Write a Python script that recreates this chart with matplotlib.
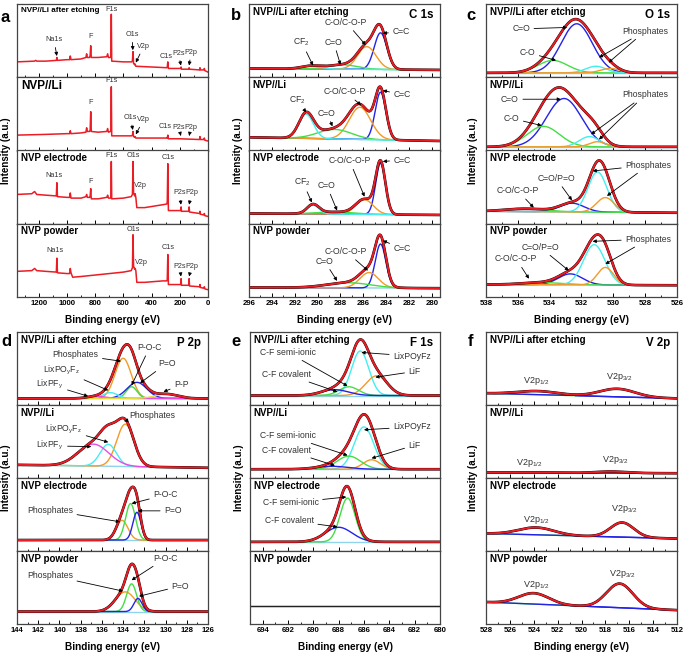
import matplotlib.pyplot as plt
import numpy as np
from matplotlib.ticker import MultipleLocator

plt.rcParams["font.family"] = ["Liberation Sans", "DejaVu Sans"]
plt.rcParams["mathtext.fontset"] = "custom"
plt.rcParams["mathtext.rm"] = "Liberation Sans"
plt.rcParams["mathtext.it"] = "Liberation Sans:italic"
plt.rcParams["mathtext.bf"] = "Liberation Sans:bold"

nan = np.nan
samples = ["NVP//Li after etching", "NVP//Li", "NVP electrode", "NVP powder"]

# ---- a: survey spectra, (binding energy, intensity) points
sv_etch_x = [1355, 1230, 1222, 1214, 1150, 1076, 1072, 1068, 1000, 982, 977, 972, 900, 866, 861, 856,
             840, 836, 832, 828, 780, 718, 712, 706, 692, 689, 686, 683, 600, 540, 536, 532, 528, 520,
             517, 512, 400, 292, 289, 285, 281, 200, 194, 191, 188, 140, 137, 134, 131, 60, 57, 54,
             30, 26, 22, 0]
sv_etch_y = [0.21, 0.22, 0.23, 0.22, 0.22, 0.23, 0.27, 0.23, 0.24, 0.24, 0.29, 0.24, 0.25, 0.27, 0.32, 0.27,
             0.27, 0.30, 0.43, 0.27, 0.27, 0.28, 0.32, 0.27, 0.27, 0.30, 0.86, 0.22, 0.21, 0.21, 0.23, 0.35, 0.19, 0.17,
             0.18, 0.15, 0.14, 0.13, 0.14, 0.21, 0.12, 0.12, 0.12, 0.14, 0.11, 0.11, 0.11, 0.13, 0.11, 0.10, 0.13, 0.10,
             0.10, 0.12, 0.09, 0.07]
sv_li_x = [1355, 1150, 1000, 982, 977, 972, 900, 866, 861, 856, 840, 836, 832, 828, 780, 718, 712, 706,
           692, 689, 686, 683, 600, 540, 536, 532, 528, 520, 517, 512, 400, 292, 289, 285, 281, 200,
           60, 57, 54, 30, 26, 22, 0]
sv_li_y = [0.21, 0.22, 0.23, 0.23, 0.27, 0.23, 0.24, 0.25, 0.31, 0.26, 0.26, 0.28, 0.53, 0.26, 0.25, 0.26, 0.30, 0.25,
           0.26, 0.28, 0.87, 0.20, 0.20, 0.20, 0.21, 0.26, 0.19, 0.18, 0.19, 0.17, 0.17, 0.17, 0.17, 0.21, 0.16, 0.16,
           0.15, 0.19, 0.15, 0.15, 0.17, 0.14, 0.13]
sv_elec_x = [1355, 1250, 1230, 1215, 1150, 1076, 1072, 1068, 1000, 982, 977, 972, 900, 866, 861, 856, 840,
             836, 832, 828, 780, 718, 712, 706, 692, 689, 686, 683, 600, 545, 536, 532, 528, 520, 517,
             512, 505, 450, 320, 292, 289, 285, 281, 200, 194, 191, 188, 140, 137, 134, 131, 60, 57, 54,
             30, 26, 22, 0]
sv_elec_y = [0.40, 0.41, 0.44, 0.40, 0.39, 0.38, 0.56, 0.37, 0.36, 0.36, 0.42, 0.35, 0.35, 0.37, 0.40, 0.36, 0.36,
             0.38, 0.48, 0.34, 0.34, 0.36, 0.39, 0.35, 0.35, 0.37, 0.85, 0.34, 0.35, 0.37, 0.40, 0.85, 0.42, 0.38, 0.41,
             0.36, 0.22, 0.22, 0.26, 0.27, 0.30, 0.82, 0.18, 0.18, 0.18, 0.23, 0.17, 0.17, 0.17, 0.23, 0.16, 0.14, 0.17, 0.13,
             0.12, 0.14, 0.11, 0.10]
sv_pow_x = [1355, 1250, 1230, 1215, 1150, 1076, 1072, 1068, 1000, 982, 977, 972, 960, 900, 800, 700, 600,
            545, 536, 532, 528, 520, 517, 512, 505, 450, 320, 292, 289, 285, 281, 200, 194, 191, 188,
            140, 137, 134, 131, 60, 57, 54, 30, 26, 22, 0]
sv_pow_y = [0.35, 0.36, 0.39, 0.36, 0.35, 0.34, 0.53, 0.33, 0.32, 0.32, 0.39, 0.33, 0.27, 0.28, 0.30, 0.32, 0.34,
            0.36, 0.40, 0.85, 0.42, 0.38, 0.39, 0.36, 0.20, 0.20, 0.22, 0.22, 0.24, 0.58, 0.17, 0.17, 0.17, 0.25, 0.16,
            0.16, 0.16, 0.25, 0.15, 0.14, 0.17, 0.13, 0.12, 0.14, 0.11, 0.10]
sv_notes = [
    [("Na1s", 1093, 0.51, [(1072, 0.29)]), ("F", 833, 0.55, []), ("F1s", 686, 0.93, []),
     ("O1s", 539, 0.58, [(533, 0.37)]), ("V2p", 457, 0.42, [(512, 0.2)]), ("C1s", 300, 0.28, []),
     ("P2s", 210, 0.33, [(192, 0.16)]), ("P2p", 120, 0.34, [(134, 0.16)])],
    [("F", 833, 0.66, []), ("F1s", 686, 0.95, []), ("O1s", 551, 0.45, [(533, 0.28)]),
     ("V2p", 458, 0.42, [(512, 0.22)]), ("C1s", 304, 0.33, []),
     ("P2s", 210, 0.32, [(192, 0.2)]), ("P2p", 120, 0.32, [(134, 0.2)])],
    [("Na1s", 1093, 0.66, []), ("F", 833, 0.57, []), ("F1s", 686, 0.93, []), ("O1s", 532, 0.93, []),
     ("V2p", 478, 0.52, []), ("C1s", 285, 0.9, []),
     ("P2s", 200, 0.42, [(192, 0.26)]), ("P2p", 117, 0.42, [(134, 0.26)])],
    [("Na1s", 1085, 0.63, []), ("O1s", 532, 0.92, []), ("V2p", 474, 0.47, []), ("C1s", 282, 0.68, []),
     ("P2s", 200, 0.42, [(192, 0.28)]), ("P2p", 117, 0.42, [(134, 0.28)])],
]

# ---- b: C 1s fit (centre eV, FWHM eV, height) per sample
c1s_names = ["C=C", "C-O/C-O-P", "C=O", "CF2"]
c1s_center = [[284.5, 285.7, 287.8, 290.6], [284.5, 286.3, 288.5, 291.0],
              [284.5, 285.9, 288.5, 290.4], [284.5, 285.5, 287.3, nan]]
c1s_fwhm = [[1.3, 1.9, 3.0, 2.0], [1.1, 2.2, 3.5, 1.5], [1.0, 1.8, 4.0, 1.2], [1.1, 1.9, 4.5, nan]]
c1s_height = [[0.50, 0.31, 0.06, 0.04], [0.65, 0.44, 0.13, 0.33], [0.70, 0.20, 0.03, 0.12], [0.60, 0.21, 0.07, nan]]
c1s_bg = [(0.12, 0.10), (0.18, 0.13), (0.14, 0.12), (0.13, 0.12)]
c1s_notes = [
    [("CF$_2$", 291.4, 0.48, [(290.4, 0.16)]), ("C=O", 288.6, 0.48, [(288.0, 0.17)]),
     ("C-O/C-O-P", 287.5, 0.75, [(285.8, 0.44)]), ("C=C", 282.7, 0.62, [(284.3, 0.6)])],
    [("CF$_2$", 291.8, 0.69, [(291.0, 0.52)]), ("C=O", 289.2, 0.51, [(288.7, 0.33)]),
     ("C-O/C-O-P", 287.6, 0.80, [(286.2, 0.62)]), ("C=C", 282.6, 0.76, [(284.3, 0.82)])],
    [("CF$_2$", 291.3, 0.57, [(290.5, 0.29)]), ("C=O", 289.2, 0.52, [(288.3, 0.18)]),
     ("C-O/C-O-P", 287.2, 0.86, [(285.9, 0.37)]), ("C=C", 282.6, 0.87, [(284.3, 0.85)])],
    [("C=O", 289.4, 0.49, [(288.3, 0.22)]), ("C-O/C-O-P", 287.5, 0.62, [(285.6, 0.36)]),
     ("C=C", 282.6, 0.66, [(284.3, 0.77)])],
]

# ---- c: O 1s fit
o1s_names = ["C=O", "C-O", "Phos1", "Phos2"]
o1s_center = [[532.3, 533.8, 531.1, 530.2], [533.1, 534.4, 531.5, 531.0],
              [532.6, 535.5, 531.0, 530.5], [532.7, 534.5, 531.2, 530.5]]
o1s_fwhm = [[2.3, 2.2, 1.5, 1.4], [2.6, 2.4, 1.5, 1.2], [1.8, 3.0, 1.4, 1.3], [1.8, 3.0, 1.6, 1.2]]
o1s_height = [[0.67, 0.17, 0.09, 0.06], [0.66, 0.28, 0.14, 0.07], [0.12, 0.04, 0.55, 0.20], [0.15, 0.03, 0.55, 0.24]]
o1s_bg = [(0.06, 0.06), (0.05, 0.05), (0.17, 0.15), (0.17, 0.16)]
o1s_notes = [
    [("C=O", 535.8, 0.66, [(532.9, 0.68)]), ("C-O", 535.4, 0.34, [(533.6, 0.23)]),
     ("Phosphates", 528.0, 0.63, [(530.9, 0.27), (530.3, 0.2)])],
    [("C=O", 536.5, 0.70, [(533.3, 0.70)]), ("C-O", 536.4, 0.44, [(534.5, 0.34)]),
     ("Phosphates", 528.0, 0.76, [(531.4, 0.22), (530.9, 0.15)])],
    [("Phosphates", 527.8, 0.80, [(531.3, 0.72), (530.4, 0.38)]), ("C=O/P=O", 533.6, 0.62, [(532.6, 0.32)]),
     ("C-O/C-O-P", 536.0, 0.45, [(535.0, 0.22)])],
    [("Phosphates", 527.8, 0.79, [(531.3, 0.76), (530.5, 0.45)]), ("C=O/P=O", 534.6, 0.68, [(532.8, 0.36)]),
     ("C-O/C-O-P", 536.1, 0.52, [(535.3, 0.25)])],
]

# ---- d: P 2p fit
p2p_names = ["Phosphates", "P-O-C", "P=O", "LixPOyFz", "LixPFy", "P-P"]
p2p_center = [[134.0, 133.2, 132.7, 135.2, 136.5, 129.9], [133.8, nan, nan, 135.4, 136.8, nan],
              [134.1, 133.3, 132.7, nan, nan, nan], [133.8, 133.2, 132.6, nan, nan, nan]]
p2p_fwhm = [[1.8, 1.2, 2.2, 1.6, 2.0, 2.5], [1.9, nan, nan, 1.8, 3.4, nan],
            [1.3, 1.1, 0.9, nan, nan, nan], [2.2, 1.1, 0.9, nan, nan, nan]]
p2p_height = [[0.55, 0.16, 0.22, 0.08, 0.03, 0.06], [0.58, nan, nan, 0.30, 0.30, nan],
              [0.27, 0.50, 0.38, nan, nan, nan], [0.27, 0.38, 0.18, nan, nan, nan]]
p2p_bg = [(0.09, 0.09), (0.18, 0.14), (0.15, 0.15), (0.17, 0.17)]
p2p_notes = [
    [("Phosphates", 138.5, 0.69, [(134.2, 0.6)]), (r"LixPO$_\mathrm{y}$F$_\mathrm{z}$", 139.8, 0.48, [(135.4, 0.2)]),
     (r"LixPF$_\mathrm{y}$", 140.9, 0.28, [(137.3, 0.12)]), ("P-O-C", 131.5, 0.79, [(133.2, 0.27)]),
     ("P=O", 129.9, 0.57, [(132.4, 0.3)]), ("P-P", 128.5, 0.28, [(130.2, 0.18)])],
    [("Phosphates", 131.3, 0.86, [(133.9, 0.78)]), (r"LixPO$_\mathrm{y}$F$_\mathrm{z}$", 139.6, 0.67, [(135.4, 0.49)]),
     (r"LixPF$_\mathrm{y}$", 140.9, 0.44, [(137.0, 0.43)])],
    [("Phosphates", 140.9, 0.56, [(134.3, 0.4)]), ("P-O-C", 130.0, 0.77, [(133.2, 0.65)]),
     ("P=O", 129.3, 0.55, [(132.6, 0.55)])],
    [("Phosphates", 140.9, 0.67, [(134.0, 0.45)]), ("P-O-C", 130.0, 0.90, [(133.2, 0.6)]),
     ("P=O", 128.6, 0.52, [(132.5, 0.38)])],
]

# ---- e: F 1s fit
f1s_names = ["LixPOyFz", "LiF", "C-F semi-ionic", "C-F covalent"]
f1s_center = [[686.3, 685.0, 687.2, 688.3], [686.0, 685.4, 687.2, 688.5],
              [nan, nan, 687.3, 688.0], [nan, nan, nan, nan]]
f1s_fwhm = [[1.6, 2.0, 1.8, 2.5], [1.8, 1.6, 2.2, 3.0], [nan, nan, 1.4, 2.5], [nan, nan, nan, nan]]
f1s_height = [[0.61, 0.27, 0.12, 0.08], [0.58, 0.13, 0.18, 0.04], [nan, nan, 0.60, 0.20], [nan, nan, nan, nan]]
f1s_bg = [(0.13, 0.13), (0.12, 0.12), (0.125, 0.125), (0.25, 0.25)]
f1s_notes = [
    [("LixPOyFz", 682.2, 0.67, [(686.2, 0.72)]), ("LiF", 682.0, 0.46, [(685.1, 0.38)]),
     ("C-F semi-ionic", 692.0, 0.72, [(687.3, 0.26)]), ("C-F covalent", 692.1, 0.42, [(688.1, 0.18)])],
    [("LixPOyFz", 682.2, 0.70, [(686.0, 0.66)]), ("LiF", 682.0, 0.45, [(685.4, 0.27)]),
     ("C-F semi-ionic", 692.0, 0.58, [(687.3, 0.31)]), ("C-F covalent", 692.1, 0.38, [(688.3, 0.17)])],
    [("C-F semi-ionic", 691.8, 0.66, [(687.4, 0.74)]), ("C-F covalent", 691.9, 0.42, [(688.1, 0.33)])],
    [],
]

# ---- f: V 2p fit
v2p_names = ["V2p1/2", "V2p3/2"]
v2p_center = [[523.7, 517.0], [524.0, 517.5], [523.8, 516.6], [524.0, 516.8]]
v2p_fwhm = [[4.0, 3.5], [3.0, 3.0], [3.5, 2.3], [3.0, 2.6]]
v2p_height = [[0.05, 0.11], [0.005, 0.02], [0.10, 0.20], [0.15, 0.33]]
v2p_bg = [(0.16, 0.09), (0.075, 0.065), (0.24, 0.17), (0.30, 0.19)]
v2p_notes = [
    [("V2p$_{1/2}$", 523.8, 0.33, []), ("V2p$_{3/2}$", 516.8, 0.38, [])],
    [("V2p$_{1/2}$", 524.4, 0.21, []), ("V2p$_{3/2}$", 517.2, 0.25, [])],
    [("V2p$_{1/2}$", 523.8, 0.43, []), ("V2p$_{3/2}$", 516.4, 0.58, [])],
    [("V2p$_{1/2}$", 523.8, 0.54, []), ("V2p$_{3/2}$", 516.6, 0.68, [])],
]

RED = "#ec1c24"
BLUE = "#2323e8"
ORANGE = "#f39a27"
GREEN = "#45dd45"
CYAN = "#44eeee"
MAGENTA = "#e54ee5"
YELLOW = "#e4dc3c"
BGC = "#8fd3ec"
colors = {"C=C": BLUE, "C-O/C-O-P": ORANGE, "C=O": GREEN, "CF2": CYAN,
          "Phosphates": ORANGE, "P-O-C": GREEN, "P=O": BLUE, "LixPOyFz": CYAN, "LixPFy": MAGENTA, "P-P": YELLOW,
          "LiF": ORANGE, "C-F semi-ionic": GREEN, "C-F covalent": BLUE,
          "V2p1/2": BLUE, "V2p3/2": BLUE}
o1s_colors = {"C=O": BLUE, "C-O": GREEN, "Phos1": CYAN, "Phos2": ORANGE}

W, H = 685, 656
fig = plt.figure(figsize=(6.85, 6.56), dpi=100)


def stack(x0, y0, x1, y1):
    h = (y1 - y0) / 4
    axs = []
    for k in range(4):
        top = y0 + k * h
        axs.append(fig.add_axes([x0 / W, 1 - (top + h) / H, (x1 - x0) / W, h / H]))
    return axs


def style(axs, lo, hi, minor, ticks):
    for k, ax in enumerate(axs):
        ax.set_xlim(hi, lo)
        ax.set_ylim(0, 1)
        ax.set_yticks([])
        ax.set_xticks(ticks)
        ax.xaxis.set_minor_locator(MultipleLocator(minor))
        ax.tick_params(axis="x", which="major", direction="in", length=3, width=0.7,
                       labelsize=5.6, pad=2, labelbottom=(k == 3))
        ax.tick_params(axis="x", which="minor", direction="in", length=1.6, width=0.6)
        for s in ax.spines.values():
            s.set_color("#444444")
            s.set_linewidth(0.9)
    axs[3].set_xticklabels([str(int(t)) for t in ticks], fontweight="bold")


def note(ax, items, size):
    for label, tx, ty, targets in items:
        if not targets:
            ax.text(tx, ty, label, ha="center", va="center", fontsize=size, color="#333333")
            continue
        for n, (px, py) in enumerate(targets):
            ax.annotate(label, xy=(px, py), xytext=(tx, ty), ha="center", va="center",
                        fontsize=size, color="#333333" if n == 0 else "none",
                        arrowprops=dict(arrowstyle="-|>", color="k", lw=0.6,
                                        mutation_scale=5, shrinkA=1, shrinkB=0))


def gauss(x, c, w, h):
    return h * np.exp(-4 * np.log(2) * (x - c) ** 2 / w ** 2)


def fit_panel(axs, lo, hi, names, centers, fwhms, heights, bgs, cmap, notes, size, split_bg=False):
    x = np.linspace(hi, lo, 700)
    for i, ax in enumerate(axs):
        b0, b1 = bgs[i]
        bg = b1 + (b0 - b1) * (x - lo) / (hi - lo)
        if split_bg:
            ax.plot(x[x >= 520], bg[x >= 520], color=GREEN, lw=1.0)
            ax.plot(x[x <= 520.5], bg[x <= 520.5], color=BLUE, lw=1.0)
        else:
            ax.plot(x, bg, color=BGC, lw=1.0)
        total = bg.copy()
        ncomp = 0
        for j, name in enumerate(names):
            c = centers[i][j]
            if np.isnan(c):
                continue
            g = gauss(x, c, fwhms[i][j], heights[i][j])
            total = total + g
            ncomp += 1
            ax.plot(x, bg + g, color=cmap[name], lw=1.0)
        if ncomp:
            ax.plot(x, total, color="k", lw=1.9)
            ax.plot(x, total, color=RED, lw=1.45)
        else:
            ax.plot(x, total, color="#222222", lw=1.0)
        note(ax, notes[i], size)


def labels(axs, title, sizes=(7, 7, 7, 7)):
    for ax, name, s in zip(axs, samples, sizes):
        ax.text(0.02, 0.965, name, transform=ax.transAxes, ha="left", va="top",
                fontsize=s, fontweight="bold")
    if title:
        axs[0].text(0.965, 0.93, title, transform=axs[0].transAxes, ha="right", va="top",
                    fontsize=8.3, fontweight="bold")


def frame_text(x0, y0, x1, y1, letter, lx, ly, ylx):
    fig.text(lx / W, 1 - ly / H, letter, fontsize=12, fontweight="bold", ha="center", va="center")
    fig.text(ylx / W, 1 - (y0 + y1) / 2 / H, "Intensity (a.u.)", rotation=90, fontsize=7,
             fontweight="bold", ha="center", va="center")
    fig.text((x0 + x1) / 2 / W, 1 - (y1 + 23) / H, "Binding energy (eV)", fontsize=7.2,
             fontweight="bold", ha="center", va="center")


# panel a
box = (17, 4, 208, 297)
axa = stack(*box)
style(axa, 0, 1355, 100, [0, 200, 400, 600, 800, 1000, 1200])
for ax, xs, ys, nt in zip(axa, [sv_etch_x, sv_li_x, sv_elec_x, sv_pow_x],
                          [sv_etch_y, sv_li_y, sv_elec_y, sv_pow_y], sv_notes):
    ax.plot(xs, ys, color=RED, lw=1.1)
    note(ax, nt, 5.2)
labels(axa, None, sizes=(5.8, 8.5, 7, 7))
frame_text(*box, "a", 5, 18, 6)

# panel b
box = (249, 4, 440, 297)
axb = stack(*box)
style(axb, 279.3, 296, 1, list(range(280, 297, 2)))
fit_panel(axb, 279.3, 296, c1s_names, c1s_center, c1s_fwhm, c1s_height, c1s_bg, colors, c1s_notes, 6.2)
labels(axb, "C 1s")
frame_text(*box, "b", 236, 16, 238)

# panel c
box = (486, 4, 677, 297)
axc = stack(*box)
style(axc, 526, 538, 1, list(range(526, 539, 2)))
fit_panel(axc, 526, 538, o1s_names, o1s_center, o1s_fwhm, o1s_height, o1s_bg, o1s_colors, o1s_notes, 6.2)
labels(axc, "O 1s")
frame_text(*box, "c", 471, 16, 473)

# panel d
box = (17, 332, 208, 624)
axd = stack(*box)
style(axd, 126, 144, 1, list(range(126, 145, 2)))
fit_panel(axd, 126, 144, p2p_names, p2p_center, p2p_fwhm, p2p_height, p2p_bg, colors, p2p_notes, 6.2)
labels(axd, "P 2p")
frame_text(*box, "d", 6, 341, 6)

# panel e
box = (250, 332, 440, 624)
axe = stack(*box)
style(axe, 680, 695, 1, list(range(680, 695, 2)))
fit_panel(axe, 680, 695, f1s_names, f1s_center, f1s_fwhm, f1s_height, f1s_bg, colors, f1s_notes, 6.2)
labels(axe, "F 1s")
frame_text(*box, "e", 236, 342, 239)

# panel f
box = (486, 332, 677, 624)
axf = stack(*box)
style(axf, 512, 528, 1, list(range(512, 529, 2)))
fit_panel(axf, 512, 528, v2p_names, v2p_center, v2p_fwhm, v2p_height, v2p_bg, colors, v2p_notes, 6.5,
          split_bg=True)
labels(axf, "V 2p")
frame_text(*box, "f", 471, 342, 473)

fig.savefig("out.png", dpi=100)
